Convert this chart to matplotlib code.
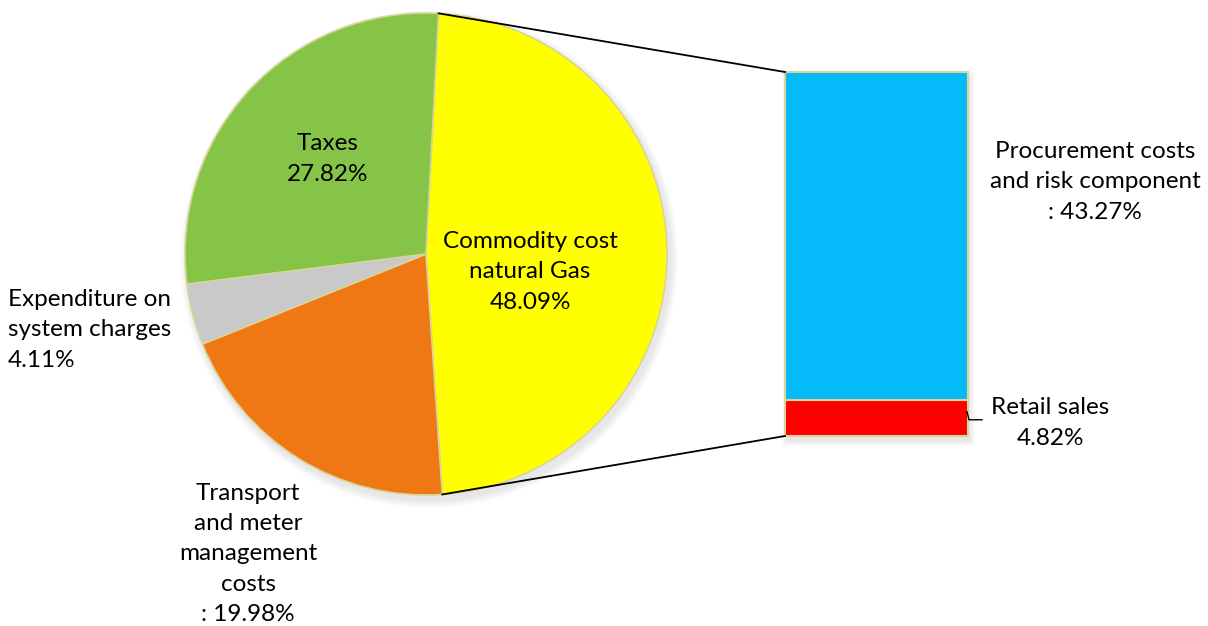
import numpy as np
import matplotlib.pyplot as plt
from matplotlib.patches import Circle, Rectangle

plt.rcParams['font.family'] = ['Lato', 'DejaVu Sans']

# pie data (clockwise from top)
pie_labels = ['Commodity cost\nnatural Gas', 'Transport\nand meter\nmanagement\ncosts',
              'Expenditure on\nsystem charges', 'Taxes']
pie_values = [48.09, 19.98, 4.11, 27.82]
pie_colors = ['#FFFF00', '#F07814', '#C9C9C9', '#86C448']

# bar data (breakdown of commodity cost), bottom to top
bar_labels = ['Retail sales', 'Procurement costs\nand risk component']
bar_values = [4.82, 43.27]
bar_colors = ['#FF0000', '#05BAF8']

W, H = 1208, 626
fig = plt.figure(figsize=(W / 100, H / 100), dpi=100)
ax = fig.add_axes([0, 0, 1, 1])

cx, cy, r = 426, H - 254, 241
start = 87

# soft shadow
for k in range(8):
    ax.add_patch(Circle((cx + 3, cy - 5), r + 8 - k, color='grey', alpha=0.025, lw=0, zorder=0))

wedges, _ = ax.pie(pie_values, colors=pie_colors, startangle=start, counterclock=False,
                   center=(cx, cy), radius=r, frame=True,
                   wedgeprops=dict(edgecolor='#D8D49A', linewidth=1.2))
ax.set_xlim(0, W)
ax.set_ylim(0, H)
ax.set_aspect('equal')
ax.axis('off')

# bar
bx0, bx1 = 785, 968
by0, by1 = H - 436, H - 72
scale = (by1 - by0) / sum(bar_values)
bottoms = by0 + np.concatenate([[0], np.cumsum(bar_values)[:-1]]) * scale
for k in range(6):
    ax.add_patch(Rectangle((bx0 + 2 - k, by0 - 5 - k), bx1 - bx0 + 2 * k, by1 - by0 + 2 * k,
                           color='grey', alpha=0.03, lw=0, zorder=0))
ax.bar((bx0 + bx1) / 2, np.array(bar_values) * scale, width=bx1 - bx0, bottom=bottoms,
       color=bar_colors, edgecolor='#D8D49A', linewidth=1.5, zorder=2)

# connecting lines
a_top = np.radians(start)
a_bot = np.radians(start - pie_values[0] * 3.6)
ax.plot([cx + r * np.cos(a_top), bx0], [cy + r * np.sin(a_top), by1], color='black', lw=1.3, zorder=3)
ax.plot([cx + r * np.cos(a_bot), bx0], [cy + r * np.sin(a_bot), by0], color='black', lw=1.3, zorder=3)

fs = 17.5
ls = 1.55
ax.text(530, H - 272, pie_labels[0] + '\n%.2f%%' % pie_values[0], ha='center', va='center',
        fontsize=fs, linespacing=ls, zorder=4)
ax.text(328, H - 159, pie_labels[3] + '\n%.2f%%' % pie_values[3], ha='center', va='center',
        fontsize=fs, linespacing=ls, zorder=4)
ax.text(8, H - 330, pie_labels[2] + '\n%.2f%%' % pie_values[2], ha='left', va='center',
        fontsize=fs, linespacing=ls, zorder=4)
ax.text(248, H - 554, pie_labels[1] + '\n: %.2f%%' % pie_values[1], ha='center', va='center',
        fontsize=fs, linespacing=ls, zorder=4)
ax.text(1095, H - 182, bar_labels[1] + '\n: %.2f%%' % bar_values[1], ha='center', va='center',
        fontsize=fs, linespacing=ls, zorder=4)
ax.text(1050, H - 423, bar_labels[0] + '\n%.2f%%' % bar_values[0], ha='center', va='center',
        fontsize=fs, linespacing=ls, zorder=4)

# leader for retail sales
ly = bottoms[0] + bar_values[0] * scale / 2
ax.plot([bx1 - 1, bx1 + 1, bx1 + 14], [ly + 6, ly - 2, ly - 2], color='black', lw=1, zorder=3)

fig.savefig('out.png', dpi=100)
